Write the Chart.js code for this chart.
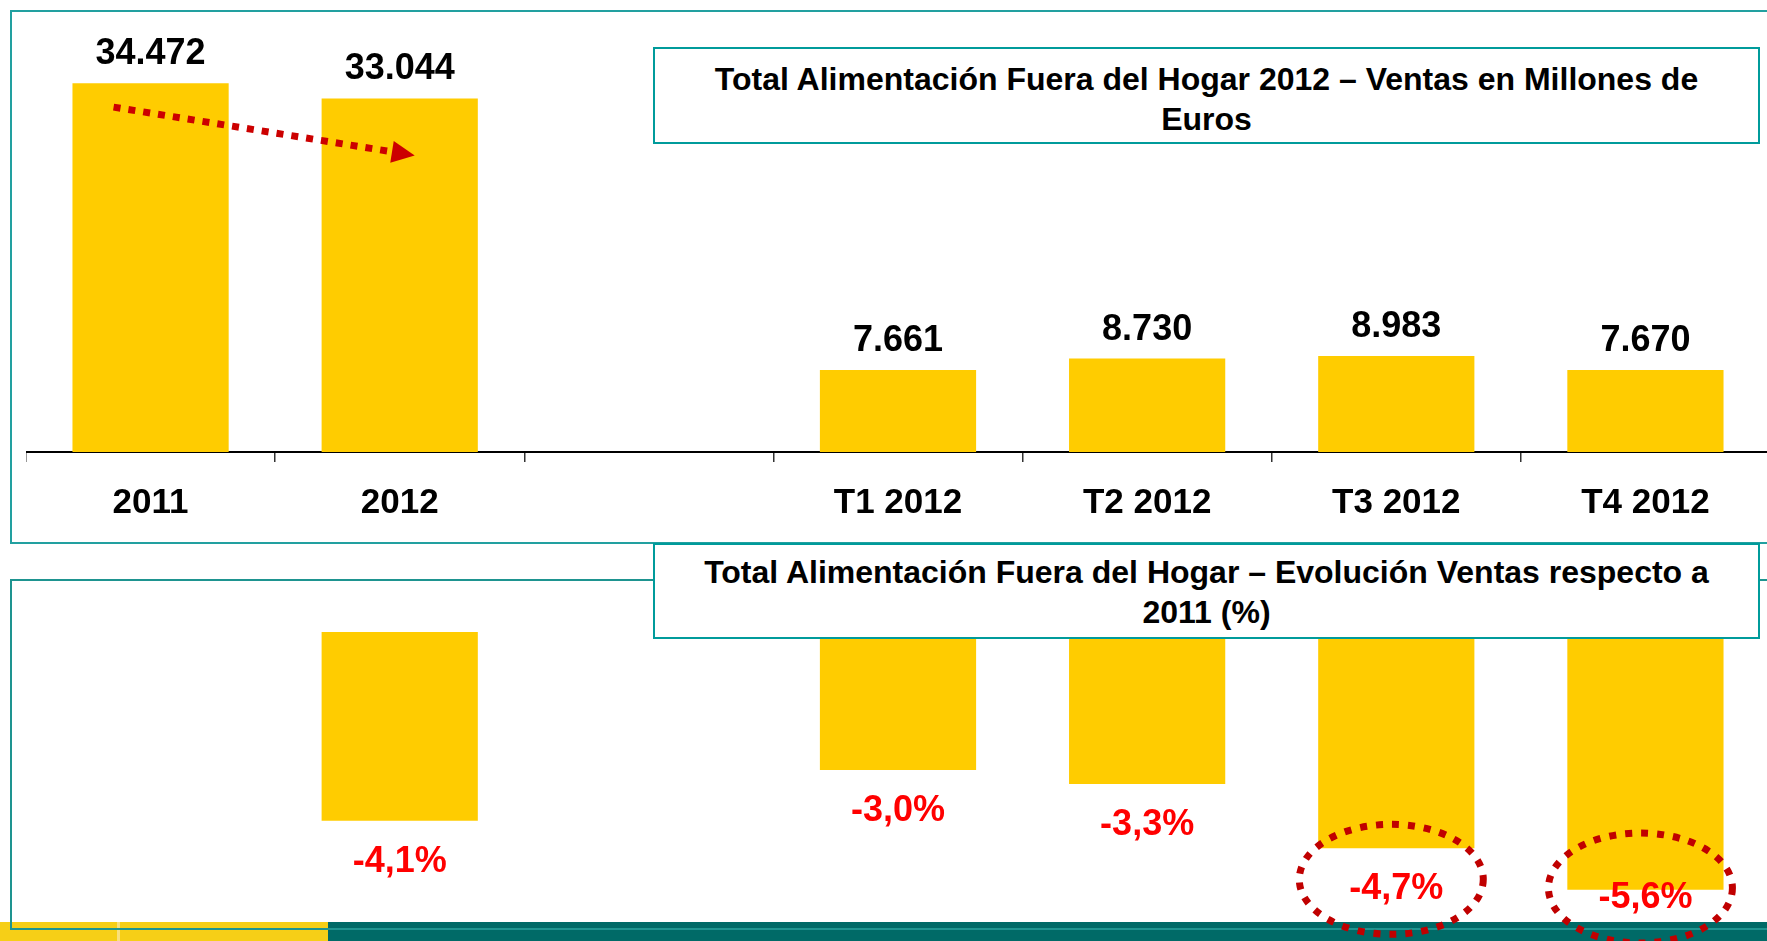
<!DOCTYPE html>
<html>
<head>
<meta charset="utf-8">
<title>Alimentación Fuera del Hogar 2012</title>
<script src="https://cdn.jsdelivr.net/npm/chart.js@4"></script>
<style>
  html, body { margin: 0; padding: 0; width: 1767px; height: 941px; overflow: hidden; background: #fff; }
  body { position: relative; font-family: "Liberation Sans", Arial, sans-serif; }
  .panel { position: absolute; left: 10px; width: 1800px; box-sizing: border-box; border: 2px solid #22a0a0; border-right: none; z-index: 1; }
  .titulo { position: absolute; left: 653px; width: 1107px; height: 97px; box-sizing: border-box; border: 2px solid #009b9b;
            background: #fff; z-index: 4; display: flex; align-items: center; justify-content: center; text-align: center;
            font-weight: bold; font-size: 32px; line-height: 40px; color: #000; }
  .lienzo { position: absolute; left: 26px; z-index: 3; }
  .franja { position: absolute; top: 922px; height: 19px; z-index: 0; }
</style>
</head>
<body>
<div class="franja" style="left:0; width:328px; background:#f6cf17;"></div>
<div class="franja" style="left:117px; width:3px; background:#f9e07c;"></div>
<div class="franja" style="left:328px; width:1439px; background:#006a67;"></div>

<div class="panel" style="top:10px; height:534px;"></div>
<div class="panel" style="top:579px; height:351px; border-color:#1e9490;"></div>

<canvas id="ventas-chart" class="lienzo" style="top:0;" width="1744" height="544"></canvas>
<canvas id="evolucion-chart" class="lienzo" style="top:580px;" width="1744" height="361"></canvas>

<div class="titulo" style="top:47px; padding-top:6px;">Total Alimentación Fuera del Hogar 2012 – Ventas en Millones de<br>Euros</div>
<div class="titulo" style="top:543px; height:96px; padding-top:2px;">Total Alimentación Fuera del Hogar – Evolución Ventas respecto a<br>2011 (%)</div>

<script>
// categorías del eje (hueco vacío entre años y trimestres)
const categorias = ['2011', '2012', '', 'T1 2012', 'T2 2012', 'T3 2012', 'T4 2012'];
// ventas en millones de euros
const ventas = [34472, 33044, null, 7661, 8730, 8983, 7670];
// evolución respecto a 2011 (%)
const evolucion = [null, -4.1, null, -3.0, -3.3, -4.7, -5.6];
// trimestres marcados con elipse
const destacados = ['T3 2012', 'T4 2012'];

const FONT = '"Liberation Sans", Arial, sans-serif';
Chart.defaults.font.family = FONT;

function fmtMiles(v) { return String(v).replace(/\B(?=(\d{3})+(?!\d))/g, '.'); }
function fmtPct(v) { return v.toFixed(1).replace('.', ',') + '%'; }

// etiquetas de valor + flecha punteada 2011 -> 2012
const etiquetasVentas = {
    id: 'etiquetasVentas',
    afterDatasetsDraw(chart) {
        const ctx = chart.ctx;
        const meta = chart.getDatasetMeta(0);
        ctx.save();
        ctx.font = 'bold 36px ' + FONT;
        ctx.fillStyle = '#000';
        ctx.textAlign = 'center';
        ctx.textBaseline = 'middle';
        meta.data.forEach((bar, i) => {
            if (ventas[i] == null) return;
            ctx.fillText(fmtMiles(ventas[i]), bar.x, bar.y - 29);
        });

        const a = meta.data[0], b = meta.data[1];
        const x0 = a.x - 37, y0 = a.y + 24;
        const x1 = b.x + 15, y1 = b.y + 57;
        const ang = Math.atan2(y1 - y0, x1 - x0);
        const headLen = 23, headW = 11;
        const bx = x1 - headLen * Math.cos(ang), by = y1 - headLen * Math.sin(ang);
        ctx.strokeStyle = '#cc0000';
        ctx.lineWidth = 7;
        ctx.setLineDash([7, 8]);
        ctx.beginPath();
        ctx.moveTo(x0, y0);
        ctx.lineTo(bx, by);
        ctx.stroke();
        ctx.setLineDash([]);
        ctx.fillStyle = '#cc0000';
        ctx.beginPath();
        ctx.moveTo(x1, y1);
        ctx.lineTo(bx + headW * Math.sin(ang), by - headW * Math.cos(ang));
        ctx.lineTo(bx - headW * Math.sin(ang), by + headW * Math.cos(ang));
        ctx.closePath();
        ctx.fill();
        ctx.restore();
    }
};

// porcentajes en rojo + elipses punteadas
const etiquetasEvolucion = {
    id: 'etiquetasEvolucion',
    afterDraw(chart) {
        const { ctx, chartArea } = chart;
        const meta = chart.getDatasetMeta(0);
        const maxY = chartArea.bottom - 24;
        ctx.save();
        meta.data.forEach((bar, i) => {
            const v = evolucion[i];
            if (v == null) return;
            const y = Math.min(bar.y + 41, maxY);
            ctx.font = 'bold 36px ' + FONT;
            ctx.fillStyle = '#ff0000';
            ctx.textAlign = 'center';
            ctx.textBaseline = 'middle';
            ctx.fillText(fmtPct(v), bar.x, y);
            if (destacados.includes(categorias[i])) {
                ctx.strokeStyle = '#c00000';
                ctx.lineWidth = 7;
                ctx.setLineDash([7, 9]);
                ctx.beginPath();
                ctx.ellipse(bar.x - 5, y - 10, 92, 55, 0, 0, Math.PI * 2);
                ctx.stroke();
                ctx.setLineDash([]);
            }
        });
        ctx.restore();
    }
};

new Chart(document.getElementById('ventas-chart').getContext('2d'), {
    type: 'bar',
    data: {
        labels: categorias,
        datasets: [{
            data: ventas,
            backgroundColor: '#ffcc00',
            borderWidth: 0,
            barPercentage: 0.627,
            categoryPercentage: 1
        }]
    },
    options: {
        responsive: false,
        animation: false,
        layout: { padding: { top: 24, left: 0, right: 0, bottom: 0 } },
        plugins: { legend: { display: false }, tooltip: { enabled: false } },
        scales: {
            x: {
                grid: { display: true, drawOnChartArea: false, drawTicks: true, tickLength: 10, color: '#333', lineWidth: 1.5, offset: true },
                border: { display: true, color: '#000', width: 2 },
                ticks: { color: '#000', font: { size: 35, weight: 'bold' }, padding: 20, maxRotation: 0, autoSkip: false }
            },
            y: { display: false, min: 0, max: 40000 }
        }
    },
    plugins: [etiquetasVentas]
});

new Chart(document.getElementById('evolucion-chart').getContext('2d'), {
    type: 'bar',
    data: {
        labels: categorias,
        datasets: [{
            data: evolucion,
            backgroundColor: '#ffcc00',
            borderWidth: 0,
            barPercentage: 0.627,
            categoryPercentage: 1
        }]
    },
    options: {
        responsive: false,
        animation: false,
        layout: { padding: { top: 52, left: 0, right: 0, bottom: 19 } },
        plugins: { legend: { display: false }, tooltip: { enabled: false } },
        scales: {
            x: { display: false },
            y: { display: false, min: -6.3, max: 0 }
        }
    },
    plugins: [etiquetasEvolucion]
});
</script>
</body>
</html>
